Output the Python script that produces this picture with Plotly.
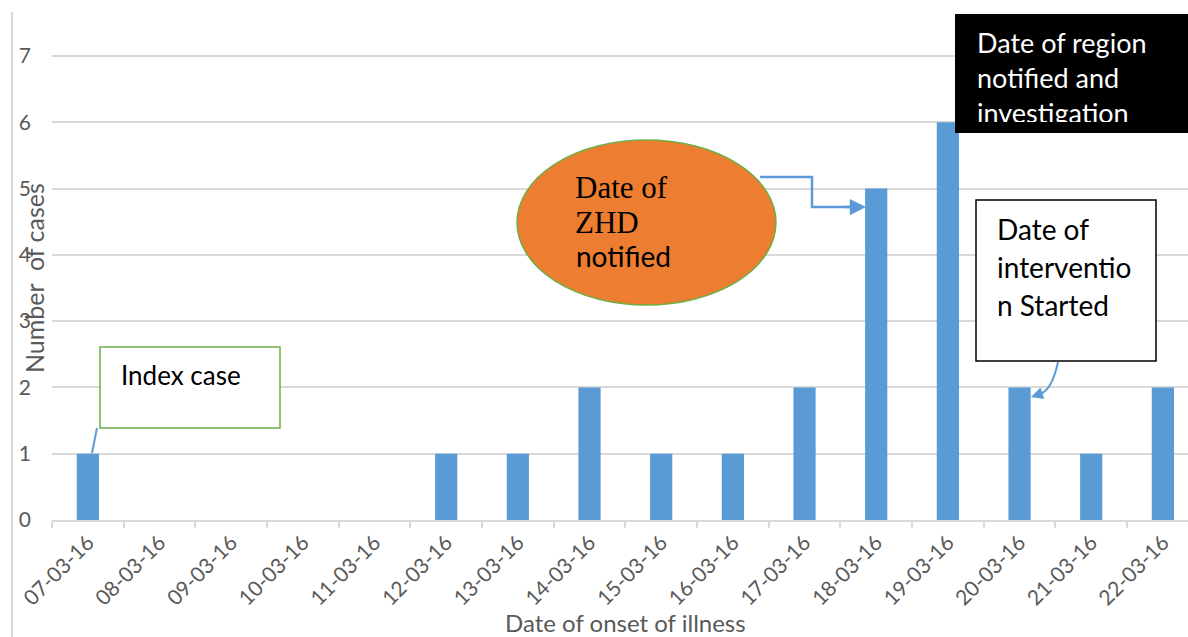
import plotly.graph_objects as go

# ---- data ----
dates = ["07-03-16", "08-03-16", "09-03-16", "10-03-16", "11-03-16", "12-03-16",
         "13-03-16", "14-03-16", "15-03-16", "16-03-16", "17-03-16", "18-03-16",
         "19-03-16", "20-03-16", "21-03-16", "22-03-16"]
cases = [1, 0, 0, 0, 0, 1, 1, 2, 1, 1, 2, 5, 6, 2, 1, 2]
y_ticks = [0, 1, 2, 3, 4, 5, 6, 7]

BLUE = "#5B9BD5"
GRID = "#D9D9D9"
GRAY_TXT = "#595959"
SANS = "Lato, 'Open Sans', sans-serif"
SERIF = "'Liberation Serif', 'DejaVu Serif', serif"

W, H = 1188, 637
L, R, T, B = 52, 1188, 12, 520


def px(x):
    return (x - L) / (R - L)


def py(y):
    return (B - y) / (B - T)


fig = go.Figure()
fig.add_trace(go.Bar(x=dates, y=cases, marker=dict(color=BLUE, line=dict(width=0)),
                     hoverinfo="x+y"))

shapes = []
# left chart border line
shapes.append(dict(type="line", xref="paper", yref="paper", x0=px(12), x1=px(12),
                   y0=py(12), y1=py(640), line=dict(color=GRID, width=2)))
# Index case box + connector
shapes.append(dict(type="rect", xref="paper", yref="paper", x0=px(100), x1=px(280),
                   y0=py(428), y1=py(347), fillcolor="white",
                   line=dict(color="#70AD47", width=1.5)))
shapes.append(dict(type="line", xref="paper", yref="paper", x0=px(97), x1=px(92),
                   y0=py(428), y1=py(453), line=dict(color=BLUE, width=2)))
# ellipse
shapes.append(dict(type="circle", xref="paper", yref="paper", x0=px(517), x1=px(776),
                   y0=py(305), y1=py(140), fillcolor="#ED7D31",
                   line=dict(color="#70AD47", width=1.5)))
# elbow connector
path = "M {} {} L {} {} L {} {} L {} {}".format(px(760), py(177), px(812), py(177),
                                                px(812), py(207), px(852), py(207))
shapes.append(dict(type="path", xref="paper", yref="paper", path=path,
                   line=dict(color=BLUE, width=2.5)))
# black box
shapes.append(dict(type="rect", xref="paper", yref="paper", x0=px(955), x1=px(1210),
                   y0=py(133), y1=py(14), fillcolor="black", line=dict(color="black", width=0)))
# intervention box
shapes.append(dict(type="rect", xref="paper", yref="paper", x0=px(976), x1=px(1156),
                   y0=py(361), y1=py(200), fillcolor="white",
                   line=dict(color="black", width=1.5)))
# curved connector
cpath = "M {} {} Q {} {} {} {}".format(px(1058), py(362), px(1052), py(390),
                                       px(1040), py(394))
shapes.append(dict(type="path", xref="paper", yref="paper", path=cpath,
                   line=dict(color=BLUE, width=2)))

ann = []


def text(t, x, y, size, color="black", family=SANS, **kw):
    d = dict(text=t, xref="paper", yref="paper", x=px(x), y=py(y), xanchor="left",
             yanchor="middle", showarrow=False, font=dict(size=size, color=color, family=family))
    d.update(kw)
    ann.append(d)


# arrowheads
ann.append(dict(text="", xref="paper", yref="paper", x=px(866), y=py(207), ax=-22, ay=0,
                showarrow=True, arrowhead=2, arrowsize=1.3, arrowwidth=2.5, arrowcolor=BLUE))
ann.append(dict(text="", xref="paper", yref="paper", x=px(1031), y=py(397), ax=12, ay=-4,
                showarrow=True, arrowhead=2, arrowsize=1.2, arrowwidth=2, arrowcolor=BLUE))

text("Index case", 119, 375, 26)
text("Date of", 573, 187, 31, family=SERIF)
text("ZHD", 573, 222, 31, family=SERIF)
text("notified", 574, 256, 28)
text("Date of region", 975, 42, 27, color="white")
text("notified and", 975, 77, 27, color="white")
ann.append(dict(text="investigation", xref="paper", yref="paper", x=px(975), y=py(94),
                xanchor="left", yanchor="top", showarrow=False, height=26, valign="top",
                font=dict(size=27, color="white", family=SANS)))
text("Date of", 995, 229, 28)
text("interventio", 995, 267, 28)
text("n Started", 995, 305, 28)

# axis titles
ann.append(dict(text="Number  of cases", xref="paper", yref="paper", x=px(34), y=py(278),
                xanchor="center", yanchor="middle", textangle=-90, showarrow=False,
                font=dict(size=25, color=GRAY_TXT, family=SANS)))
ann.append(dict(text="Date of onset of illness", xref="paper", yref="paper", x=px(625),
                y=py(622), xanchor="center", yanchor="middle", showarrow=False,
                font=dict(size=24, color=GRAY_TXT, family=SANS)))

fig.update_layout(
    width=W, height=H,
    margin=dict(l=L, r=W - R, t=T, b=H - B, pad=0),
    paper_bgcolor="white", plot_bgcolor="white",
    showlegend=False, bargap=0.69,
    shapes=shapes, annotations=ann,
    xaxis=dict(type="category", range=[-0.5, -0.5 + (R - L) / 71.67],
               tickangle=-45, tickfont=dict(size=21, color=GRAY_TXT, family=SANS),
               showline=True, linecolor=GRID, linewidth=2,
               ticks="outside", tickson="boundaries", ticklen=6, tickcolor=GRID, tickwidth=2,
               showgrid=False, zeroline=False),
    yaxis=dict(range=[0, (B - T) / ((B - 56) / 7)], tickvals=y_ticks,
               tickfont=dict(size=21, color=GRAY_TXT, family=SANS),
               gridcolor=GRID, gridwidth=1.5, zeroline=False, showline=False,
               ticks="", ticklabelstandoff=20),
)

fig.write_html("out.html", config={"displayModeBar": False},
               post_script="document.body.style.margin='0px';")
